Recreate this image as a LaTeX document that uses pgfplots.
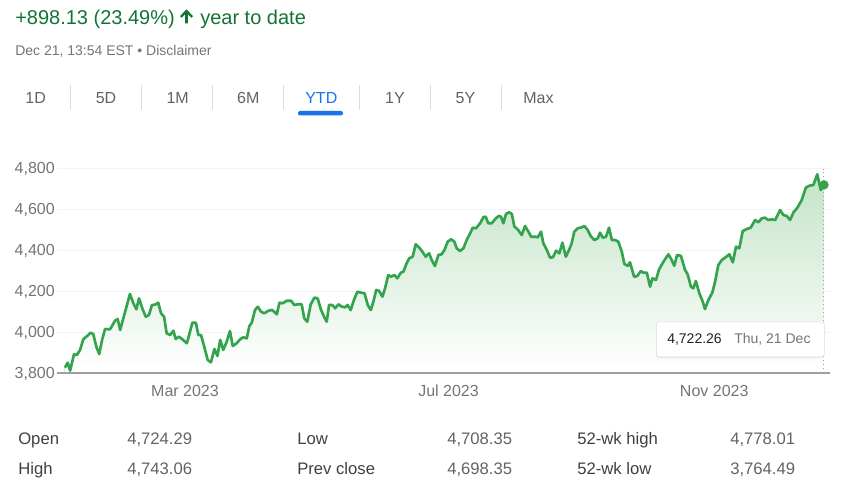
\documentclass[border=0pt]{standalone}
\usepackage{fontspec}
\setmainfont{Liberation Sans}
\usepackage{pgfplots}
\pgfplotsset{compat=1.18}
\usepackage{pgfplotstable}
\usepgfplotslibrary{fillbetween}
\usetikzlibrary{shadows}
\definecolor{gline}{RGB}{52,163,78}
\definecolor{gtext}{RGB}{19,115,51}
\definecolor{gfilltop}{RGB}{196,228,200}
\definecolor{gfillmid}{RGB}{236,246,237}
\definecolor{tgray}{RGB}{112,117,122}
\definecolor{tabgray}{RGB}{95,99,104}
\definecolor{labgray}{RGB}{60,64,67}
\definecolor{darktxt}{RGB}{32,33,36}
\definecolor{gblue}{RGB}{26,115,232}
\definecolor{sepc}{RGB}{218,220,224}
\definecolor{gridc}{RGB}{241,243,244}
\definecolor{axisc}{RGB}{154,160,166}

% day of year (Jan 1 = 0), index value
\pgfplotstableread{
d v
3.4 3828.4
4.7 3852.8
5.8 3813.7
7.6 3893.9
8.9 3890.5
10.4 3914.9
11.9 3967.2
14.2 3988.3
15.3 3999.5
16.5 3993.2
18.1 3926.2
19.3 3895.4
20.7 3968.7
22.0 4017.6
24.3 4016.1
26.6 4058.2
27.8 4066.5
29.0 4012.7
31.2 4099.3
33.5 4188.8
35.1 4143.3
36.5 4113.9
37.7 4167.7
39.2 4118.8
40.8 4077.8
42.3 4086.1
43.7 4135.0
45.1 4136.4
46.6 4146.2
47.9 4094.4
49.3 4077.8
50.5 3996.6
52.1 3988.3
53.6 4009.3
54.7 3968.7
56.2 3980.0
58.2 3963.8
59.8 3947.7
60.5 3972.1
62.4 4048.4
64.0 4048.4
65.2 3988.3
66.4 3988.3
67.9 3931.1
69.5 3866.0
71.0 3854.8
72.6 3919.8
74.0 3885.6
75.3 3963.8
76.7 3914.9
78.3 3955.5
79.8 4007.8
81.1 3934.5
82.9 3947.7
84.5 3967.2
86.0 3977.0
87.6 3972.1
88.8 4032.3
89.9 4048.4
91.4 4110.5
92.7 4126.7
94.2 4102.2
95.7 4094.4
97.6 4107.1
99.4 4110.5
101.5 4089.5
102.7 4146.2
104.2 4143.3
106.1 4156.0
108.1 4156.0
109.6 4135.0
111.2 4138.4
113.0 4138.4
114.2 4069.9
115.6 4053.3
117.2 4138.4
118.9 4170.7
120.4 4167.7
122.0 4110.5
123.5 4074.8
124.6 4053.3
125.7 4135.0
127.2 4135.0
128.5 4118.8
130.0 4138.4
131.6 4126.7
133.1 4123.7
134.3 4135.0
135.7 4110.5
137.2 4159.4
138.8 4200.0
140.5 4195.1
142.1 4192.2
143.6 4135.0
145.0 4110.5
146.2 4151.1
147.5 4208.3
148.8 4204.9
150.4 4175.6
151.6 4216.6
153.1 4281.7
154.4 4273.4
155.9 4281.7
157.3 4265.5
158.9 4292.9
160.1 4297.8
161.6 4338.9
162.8 4363.3
164.4 4371.2
165.8 4431.8
167.3 4417.1
168.9 4395.6
170.4 4371.2
172.0 4387.8
173.2 4355.0
174.7 4325.7
176.3 4379.5
177.8 4382.9
179.1 4403.9
180.6 4444.5
182.2 4456.2
183.7 4444.5
184.8 4412.2
186.3 4399.0
187.9 4412.2
189.4 4452.8
191.0 4485.6
192.2 4513.0
193.7 4510.0
195.6 4534.5
197.1 4563.8
198.2 4566.8
199.4 4534.5
201.0 4534.5
202.5 4554.0
204.1 4570.2
205.3 4566.8
206.4 4534.5
207.6 4580.0
209.0 4588.3
210.3 4580.0
211.5 4517.9
213.0 4505.1
214.9 4477.3
216.4 4521.3
218.0 4493.4
219.2 4469.0
221.1 4469.0
222.3 4466.0
223.8 4493.4
224.9 4436.7
226.5 4403.9
228.0 4366.3
229.3 4368.2
230.8 4400.5
232.3 4387.8
233.7 4439.6
235.3 4371.2
236.8 4403.9
238.0 4436.7
239.2 4493.4
240.8 4510.0
242.7 4514.9
243.9 4521.3
245.4 4501.7
247.0 4469.0
248.5 4452.8
250.1 4461.1
251.1 4488.5
252.4 4464.0
253.9 4469.0
255.3 4513.0
256.6 4452.8
258.1 4452.8
259.6 4444.5
261.2 4395.6
262.4 4335.5
264.0 4325.7
265.0 4343.8
266.9 4273.4
268.4 4276.8
270.0 4301.2
271.2 4292.9
272.8 4292.9
274.3 4224.5
275.4 4265.5
277.0 4257.2
278.5 4309.5
280.5 4346.7
282.8 4382.9
284.3 4355.0
285.5 4327.1
286.8 4379.5
288.6 4374.6
290.5 4306.1
291.7 4285.1
293.2 4224.5
294.3 4216.6
295.5 4252.3
297.1 4192.2
298.7 4151.1
299.7 4115.4
301.3 4159.4
303.1 4195.1
304.4 4248.9
305.9 4330.6
307.5 4355.0
309.0 4366.3
311.0 4382.9
312.6 4343.8
314.1 4420.1
315.6 4412.2
317.2 4496.8
319.1 4506.6
320.9 4513.0
322.9 4550.6
324.4 4539.4
326.0 4558.9
327.5 4561.9
329.1 4550.6
330.6 4554.0
332.2 4550.6
334.5 4599.6
336.0 4575.1
337.6 4570.2
339.1 4550.6
340.7 4588.3
342.5 4610.8
344.5 4648.4
346.4 4708.6
348.0 4718.3
349.9 4721.8
351.7 4774.1
353.3 4697.3
354.8 4722.26
}\spx

\begin{document}
\begin{tikzpicture}
\begin{scope}[x=0.75pt,y=-0.75pt]
\path[use as bounding box] (0,0) rectangle (842,498);
% header
\node[anchor=base west, inner sep=0pt, text=gtext, font=\fontsize{15}{18}\selectfont] at (15,24.3) {+898.13 (23.49\%)};
\fill[gtext] (180,16.2) -- (186.5,9.3) -- (193,16.2) -- (191.3,17.7) -- (187.8,14.2) -- (187.8,23.5) -- (185.2,23.5) -- (185.2,14.2) -- (181.7,17.7) -- cycle;
\node[anchor=base west, inner sep=0pt, text=gtext, font=\fontsize{15}{18}\selectfont] at (200,24.3) {year to date};
\node[anchor=base west, inner sep=0pt, text=tgray, font=\fontsize{10.5}{12}\selectfont] at (15,55.5) {Dec 21, 13:54 EST \textbullet\ Disclaimer};
% tabs
\foreach \xx/\lab in {35.7/1D,106/5D,177.7/1M,248.3/6M,395/1Y,465.5/5Y,538.5/Max}{
  \node[anchor=base, inner sep=0pt, text=tabgray, font=\fontsize{12}{14}\selectfont] at (\xx,103.3) {\lab};
}
\node[anchor=base, inner sep=0pt, text=gblue, font=\fontsize{12}{14}\selectfont] at (321.3,103.3) {YTD};
\foreach \xx in {70.7,141.7,212.3,283.3,359.3,430,501}{
  \draw[sepc, line width=0.75pt] (\xx,85) -- (\xx,110);
}
\fill[gblue, rounded corners=1.5pt] (298,115.5) -- (298,111) -- (343,111) -- (343,115.5) -- cycle;
% bottom table
\foreach \xx/\yy/\lab in {18/445/Open,18/474.5/High,297/445/Low,297/474.5/Prev close,577/445/52-wk high,577/474.5/52-wk low}{
  \node[anchor=base west, inner sep=0pt, text=labgray, font=\fontsize{12.5}{14}\selectfont] at (\xx,\yy) {\lab};
}
\foreach \xx/\yy/\lab in {127/445/{4,724.29},127/474.5/{4,743.06},447/445/{4,708.35},447/474.5/{4,698.35},730/445/{4,778.01},730/474.5/{3,764.49}}{
  \node[anchor=base west, inner sep=0pt, text=tabgray, font=\fontsize{12.5}{14}\selectfont] at (\xx,\yy) {\lab};
}
\end{scope}

\begin{axis}[
  at={(42.75pt,-280.125pt)}, anchor=south west,
  scale only axis, width=579.75pt, height=153.375pt,
  set layers,
  xmin=-0.264, xmax=357.6, ymin=3800, ymax=4800,
  axis line style={draw=none},
  ytick={3800,4000,4200,4400,4600,4800},
  xtick={59,181,304}, xticklabels={Mar 2023,Jul 2023,Nov 2023},
  minor xtick={}, minor ytick={},
  ymajorgrids, grid style={gridc, line width=0.75pt},
  xtick pos=bottom, ytick pos=left,
  major tick length=0pt,
  tick style={draw=none},
  scaled y ticks=false,
  /pgf/number format/assume math mode=true,
  /pgf/number format/1000 sep={,},
  yticklabel style={font=\fontsize{12}{14}\selectfont, text=tgray, anchor=east, inner sep=0pt, xshift=-1.5pt},
  xticklabel style={font=\fontsize{12}{14}\selectfont, text=tgray, anchor=north, inner sep=0pt, yshift=-8.5pt},
]
\addplot[draw=none, name path=A, forget plot] table[x=d, y=v] {\spx};
\path[name path=B] (axis cs:3.4,3800) -- (axis cs:354.8,3800);
\addplot[draw=none, top color=gfilltop, middle color=gfillmid, bottom color=white] fill between[of=A and B];
\addplot[gline, line width=2pt, line join=round, no marks] table[x=d, y=v] {\spx};
\draw[axisc, line width=1.5pt] (rel axis cs:0,0) -- (rel axis cs:1,0);
\draw[axisc, line width=0.8pt] (axis cs:59,3800) -- ++(0pt,-5.25pt);
\draw[axisc, line width=0.8pt] (axis cs:181,3800) -- ++(0pt,-5.25pt);
\draw[axisc, line width=0.8pt] (axis cs:304,3800) -- ++(0pt,-5.25pt);
\draw[axisc, line width=0.75pt, dash pattern=on 1.2pt off 1.8pt] (axis cs:354.8,3800) -- (axis cs:354.8,4800);
\addplot[only marks, mark=*, mark size=3.3pt, gline] coordinates {(354.8,4722.26)};
\end{axis}

\begin{scope}[x=0.75pt,y=-0.75pt]
\node[draw=sepc, line width=0.4pt, fill=white, rounded corners=2pt, drop shadow={opacity=0.12, shadow xshift=0pt, shadow yshift=-1pt}, minimum width=126pt, minimum height=26.25pt, inner sep=0pt, anchor=north west] at (656,321.7) {};
\node[anchor=base west, inner sep=0pt, text=darktxt, font=\fontsize{10.5}{12}\selectfont] at (667,343.5) {4,722.26};
\node[anchor=base west, inner sep=0pt, text=tgray, font=\fontsize{10.5}{12}\selectfont] at (734,343.5) {Thu, 21 Dec};
\end{scope}
\end{tikzpicture}
\end{document}
